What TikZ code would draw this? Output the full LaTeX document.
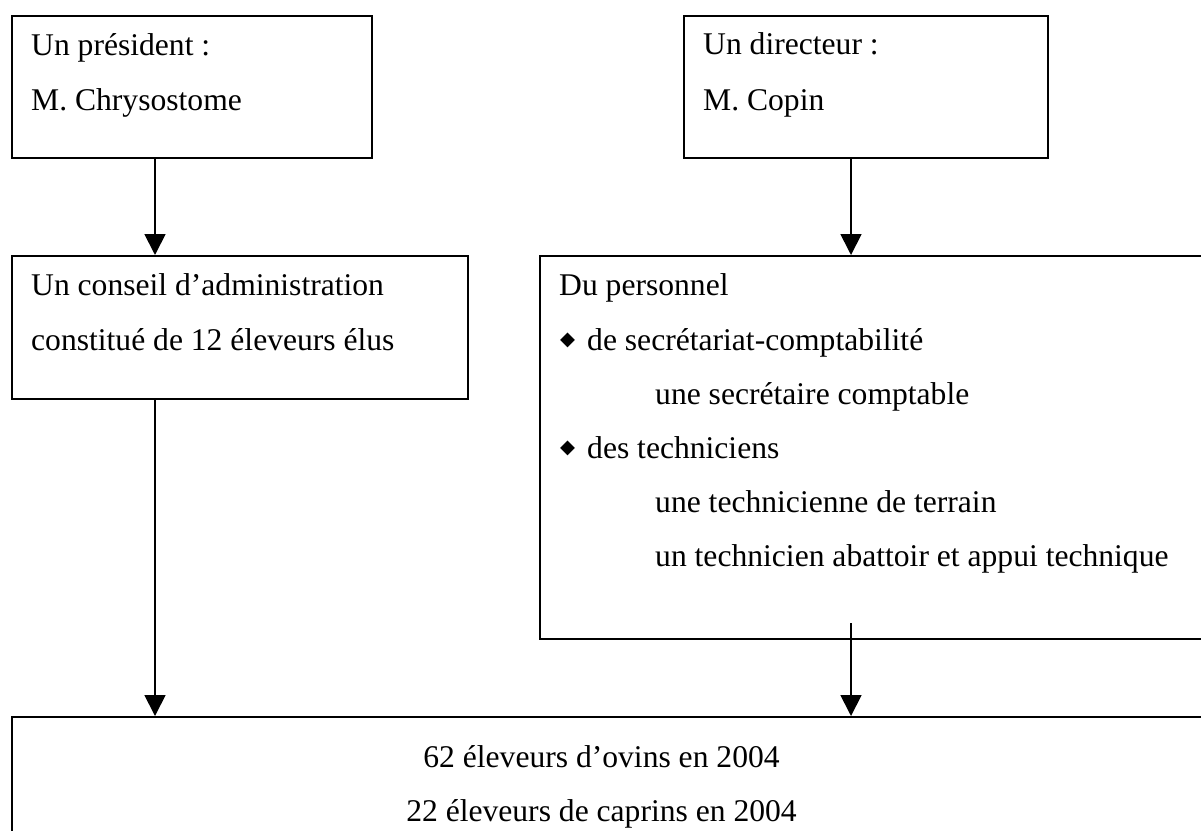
\documentclass[tikz,border=0pt]{standalone}
\usepackage{fontspec}
\setmainfont{Liberation Serif}
\newfontfamily\symfont{DejaVu Sans}
\usetikzlibrary{arrows.meta}

\begin{document}
\begin{tikzpicture}[x=1pt,y=-1pt,
  box/.style={draw=black,line width=2pt,rectangle,inner sep=0pt,anchor=north west},
  txt/.style={inner sep=0pt,anchor=base west,font=\fontsize{31.6}{38}\selectfont},
  ctxt/.style={inner sep=0pt,anchor=base,font=\fontsize{31.6}{38}\selectfont},
  puce/.style={inner sep=0pt,anchor=center,font=\symfont\fontsize{19.5}{19.5}\selectfont},
  arr/.style={line width=1.8pt,-{Triangle[width=21pt,length=21pt]}}]

\useasboundingbox (0,0) rectangle (1201,830);

% boxes
\node[box,minimum width=360pt,minimum height=142pt] (pres) at (11,15) {};
\node[box,minimum width=364pt,minimum height=142pt] (dir) at (683,15) {};
\node[box,minimum width=456pt,minimum height=143pt] (cons) at (11,255) {};
\node[box,minimum width=700pt,minimum height=383pt] (pers) at (539,255) {};
\node[box,minimum width=1220pt,minimum height=200pt] (elev) at (11,716) {};

% president
\node[txt] (t1) at (31,55) {Un président :};
\node[txt] (t2) at (31,110) {M. Chrysostome};

% directeur
\node[txt] (t3) at (703,54) {Un directeur :};
\node[txt] (t4) at (703,110) {M. Copin};

% conseil
\node[txt] (t5) at (31,295) {Un conseil d’administration};
\node[txt] (t6) at (31,350) {constitué de 12 éleveurs élus};

% personnel
\node[txt] (t7) at (559,295) {Du personnel};
\node[puce] (b1) at (567.5,340) {◆};
\node[txt] (t8) at (587,350) {de secrétariat-comptabilité};
\node[txt] (t9) at (655,404) {une secrétaire comptable};
\node[puce] (b2) at (567.5,448) {◆};
\node[txt] (t10) at (587,458) {des techniciens};
\node[txt] (t11) at (655,512) {une technicienne de terrain};
\node[txt] (t12) at (655,566) {un technicien abattoir et appui technique};

% eleveurs
\node[ctxt] (t13) at (601.5,767) {62 éleveurs d’ovins en 2004};
\node[ctxt] (t14) at (601.5,821) {22 éleveurs de caprins en 2004};

% connectors (the last one starts just inside the staff box)
\coordinate (p4) at ([xshift=312pt,yshift=17pt]pers.south west);
\draw[arr] ([xshift=144pt]pres.south west) -- ([xshift=144pt]cons.north west);
\draw[arr] ([xshift=168pt]dir.south west) -- ([xshift=312pt]pers.north west);
\draw[arr] ([xshift=144pt]cons.south west) -- ([xshift=144pt]elev.north west);
\draw[arr] (p4) -- ([xshift=840pt]elev.north west);
\end{tikzpicture}
\end{document}
